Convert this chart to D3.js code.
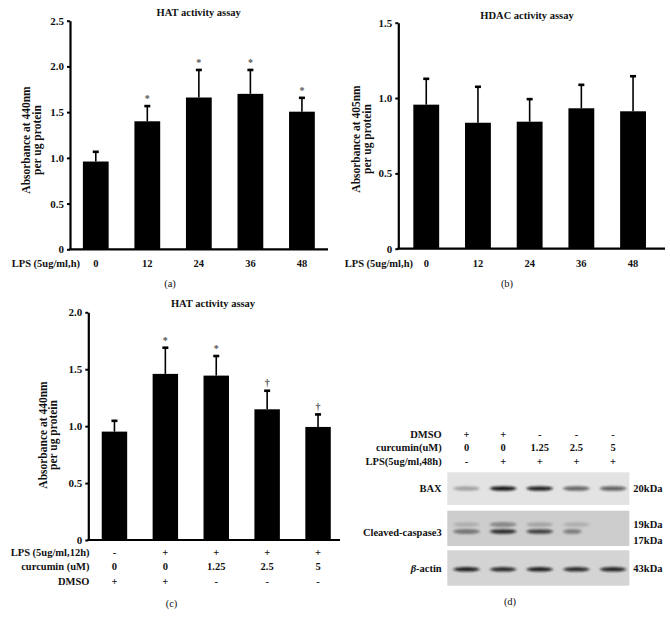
<!DOCTYPE html>
<html><head><meta charset="utf-8">
<script src="https://cdn.jsdelivr.net/npm/d3@7"></script>
<style>
body{margin:0;background:#fff}
svg text{font-family:"Liberation Serif","Times New Roman",serif;font-weight:bold;fill:#111}
</style></head>
<body><svg id="c" width="670" height="623"></svg>
<script>
// ---------- data ----------
const hatTimes = ["0","12","24","36","48"];
const hatMeans = [0.96, 1.40, 1.66, 1.70, 1.505];
const hatSD    = [0.115, 0.175, 0.31, 0.27, 0.16];
const hatSig   = ["", "*", "*", "*", "*"];
const hatTicks = [0, 0.5, 1.0, 1.5, 2.0, 2.5];

const hdacTimes = ["0","12","24","36","48"];
const hdacMeans = [0.956, 0.836, 0.843, 0.932, 0.912];
const hdacSD    = [0.177, 0.244, 0.155, 0.161, 0.238];
const hdacSig   = ["", "", "", "", ""];
const hdacTicks = [0, 0.5, 1.0, 1.5];

const curLps   = ["-","+","+","+","+"];
const curDose  = ["0","0","1.25","2.5","5"];
const curDmso  = ["+","+","-","-","-"];
const curMeans = [0.952, 1.459, 1.444, 1.148, 0.993];
const curSD    = [0.102, 0.237, 0.179, 0.17, 0.117];
const curSig   = ["", "*", "*", "\u2020", "\u2020"];
const curTicks = [0, 0.5, 1.0, 1.5, 2.0];

const blotDmso = ["+","+","-","-","-"];
const blotCur  = ["0","0","1.25","2.5","5"];
const blotLps  = ["-","+","+","+","+"];
const baxBand   = [0.28, 0.95, 0.9, 0.6, 0.62];
const casp19    = [0.15, 0.4, 0.2, 0.15, 0.0];
const casp17    = [0.5, 0.85, 0.75, 0.45, 0.0];
const actinBand = [0.9, 0.85, 0.9, 0.85, 0.88];

// ---------- drawing ----------
const svg = d3.select("#c");
const fmt = d => d === 0 ? "0" : d3.format(".1f")(d);

function barPanel(o){
  const g = svg.append("g");
  const ids = o.means.map((d,i)=>i);
  const x = d3.scaleBand().domain(ids).range(o.xr).paddingInner(0.5).paddingOuter(0.25);
  const y = d3.scaleLinear().domain([0, o.ymax]).range(o.yr);
  // y axis
  const ax = g.append("g").attr("transform",`translate(${o.ax},0)`)
    .call(d3.axisLeft(y).tickValues(o.ticks).tickSize(3).tickSizeOuter(0).tickFormat(fmt));
  ax.select(".domain").attr("stroke","#000").attr("stroke-width",2.2);
  ax.selectAll(".tick line").attr("stroke","#000").attr("stroke-width",2);
  ax.selectAll(".tick text").attr("x",-6).style("font-size","11px").style("font-family","Liberation Serif").style("font-weight","bold").attr("fill","#111");
  // x axis line
  g.append("line").attr("x1",o.ax-1).attr("x2",o.axEnd).attr("y1",y(0)).attr("y2",y(0))
    .attr("stroke","#000").attr("stroke-width",2.2);
  // error bars
  const eg = g.append("g");
  ids.forEach(i=>{
    const cx = x(i)+x.bandwidth()/2;
    const top = y(o.means[i]+o.sd[i]);
    eg.append("line").attr("x1",cx).attr("x2",cx).attr("y1",y(o.means[i])).attr("y2",top)
      .attr("stroke","#000").attr("stroke-width",1.6);
    eg.append("rect").attr("x",cx-3).attr("y",top-0.5).attr("width",6).attr("height",2.6).attr("fill","#000");
    if(o.sig[i]){
      const star = o.sig[i]==="*";
      g.append("text").attr("x",cx).attr("y",top-(star?3:4)).attr("text-anchor","middle")
        .style("font-size",star?"10px":"10px").style("font-weight","bold")
        .style("fill","#555").text(o.sig[i]);
    }
  });
  // bars
  g.append("g").selectAll("rect").data(ids).join("rect")
    .attr("x",i=>x(i)).attr("width",x.bandwidth())
    .attr("y",i=>y(o.means[i])).attr("height",i=>y(0)-y(o.means[i])).attr("fill","#000");
  // title
  g.append("text").attr("x",o.title[1]).attr("y",o.title[2]).attr("text-anchor","middle")
    .style("font-size","10.5px").text(o.title[0]);
  // y label
  const yl = g.append("text").attr("transform",`translate(${o.ylab[0]},${o.ylab[1]}) rotate(-90)`)
    .attr("text-anchor","middle").style("font-size","11.5px");
  yl.append("tspan").attr("x",0).attr("dy","0.35em").text(o.ylab[2]);
  yl.append("tspan").attr("x",0).attr("dy","0.95em").text("per ug protein");
  // category rows
  o.rows.forEach(r=>{
    g.append("text").attr("x",o.rowLabelX).attr("y",r.y).attr("text-anchor","end")
      .style("font-size","10.5px").text(r.label);
    r.vals.forEach((v,i)=>{
      g.append("text").attr("x",x(i)+x.bandwidth()/2).attr("y",r.y).attr("text-anchor","middle")
        .style("font-size","10.5px").text(v);
    });
  });
  g.append("text").attr("x",o.tag[1]).attr("y",o.tag[2]).attr("text-anchor","middle")
    .style("font-size","10.5px").style("font-weight","normal").text(o.tag[0]);
}

barPanel({means:hatMeans, sd:hatSD, sig:hatSig, ticks:hatTicks, ymax:2.5,
  xr:[70,327.7], yr:[249.3,20.7], ax:70, axEnd:328,
  title:["HAT activity assay",198.7,15.5], ylab:[26,140,"Absorbance at 440nm"],
  rows:[{label:"LPS (5ug/ml,h)", vals:hatTimes, y:266.5}], rowLabelX:80,
  tag:["(a)",170,287]});

barPanel({means:hdacMeans, sd:hdacSD, sig:hdacSig, ticks:hdacTicks, ymax:1.5,
  xr:[400.4,658.9], yr:[248.7,22.7], ax:398.3, axEnd:665,
  title:["HDAC activity assay",527,18.5], ylab:[356,139,"Absorbance at 405nm"],
  rows:[{label:"LPS (5ug/ml,h)", vals:hdacTimes, y:266.5}], rowLabelX:413,
  tag:["(b)",507,287]});

barPanel({means:curMeans, sd:curSD, sig:curSig, ticks:curTicks, ymax:2.0,
  xr:[89,343.5], yr:[540,312.3], ax:88.3, axEnd:340,
  title:["HAT activity assay",213,306.5], ylab:[42.5,435,"Absorbance at 440nm"],
  rows:[{label:"LPS (5ug/ml,12h)", vals:curLps, y:555.5},
        {label:"curcumin (uM)", vals:curDose, y:570},
        {label:"DMSO", vals:curDmso, y:585}], rowLabelX:89.5,
  tag:["(c)",171.5,607]});

// ---------- western blot (d) ----------
const defs = svg.append("defs");
defs.append("filter").attr("id","blur").attr("x","-30%").attr("y","-100%").attr("width","160%").attr("height","300%")
  .append("feGaussianBlur").attr("stdDeviation","1.6 0.9");
const lanes = d3.scalePoint().domain(d3.range(5)).range([466.5,613]);
const dg = svg.append("g");
[["DMSO",blotDmso,437.5],["curcumin(uM)",blotCur,451],["LPS(5ug/ml,48h)",blotLps,465]].forEach(r=>{
  dg.append("text").attr("x",441.7).attr("y",r[2]).attr("text-anchor","end").style("font-size","10.5px").text(r[0]);
  r[1].forEach((v,i)=>dg.append("text").attr("x",lanes(i)).attr("y",r[2]).attr("text-anchor","middle").style("font-size","10.5px").text(v));
});
const panels = [
  {y0:472.3,y1:505,bg:"#e3e3e3",label:"BAX",ly:492,bands:[[baxBand,488.5]]},
  {y0:510.7,y1:546,bg:"#cdcdcd",label:"Cleaved-caspase3",ly:536,bands:[[casp19,524.5],[casp17,531.5]]},
  {y0:550.3,y1:585.7,bg:"#d4d4d4",label:"\u03b2-actin",ly:572,bands:[[actinBand,569.3]]}
];
panels.forEach(p=>{
  dg.append("rect").attr("x",447.3).attr("y",p.y0).attr("width",182).attr("height",p.y1-p.y0).attr("fill",p.bg);
  const t = dg.append("text").attr("x",441.7).attr("y",p.ly).attr("text-anchor","end").style("font-size","10.5px");
  if(p.label.startsWith("\u03b2")){ t.append("tspan").style("font-style","italic").text("\u03b2"); t.append("tspan").text("-actin"); }
  else t.text(p.label);
  p.bands.forEach(([vals,by])=>{
    dg.append("g").attr("filter","url(#blur)").selectAll("ellipse").data(vals).join("ellipse")
      .attr("cx",(d,i)=>lanes(i)+ (i===3 && by===531.5 ? -4 : 0))
      .attr("cy",by).attr("rx",(d,i)=> (i===3 && by===531.5) ? 9 : 13).attr("ry",2.3)
      .attr("fill","#111").attr("opacity",d=>d);
  });
});
[["20kDa",492],["19kDa",527.5],["17kDa",544],["43kDa",572]].forEach(k=>{
  dg.append("text").attr("x",633.3).attr("y",k[1]).style("font-size","10.5px").text(k[0]);
});
dg.append("text").attr("x",510).attr("y",605).attr("text-anchor","middle").style("font-size","10.5px").style("font-weight","normal").text("(d)");
</script></body></html>
